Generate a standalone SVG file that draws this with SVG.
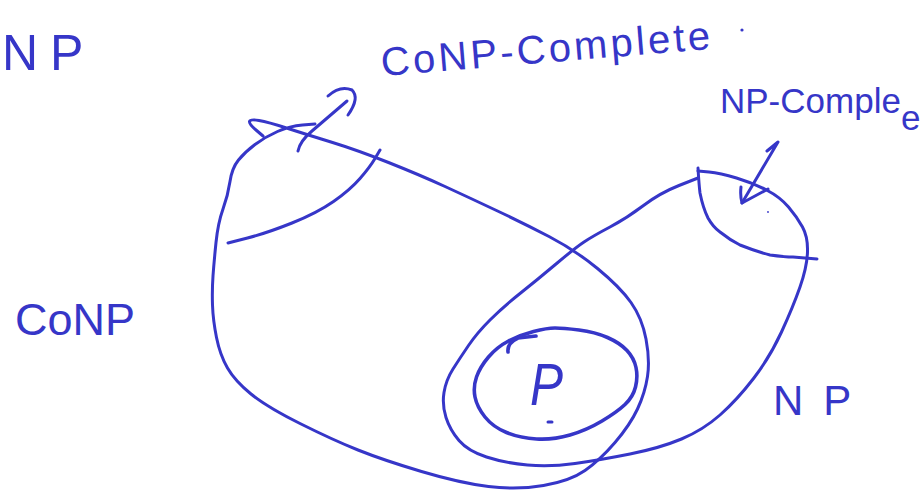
<svg xmlns="http://www.w3.org/2000/svg" width="924" height="491" viewBox="0 0 924 491">
<style>
.ink{fill:none;stroke:#3636c8;stroke-width:3;stroke-linecap:round;stroke-linejoin:round}
.thick{stroke-width:3.6}
.lbl{fill:#3636c8;font-family:"Liberation Sans",Arial,sans-serif}
</style>
<rect width="924" height="491" fill="#ffffff"/>
<g id="coNP">
<path class="ink" d="M263,136 L256,130 Q249,124 249.5,121.5 Q250,119 259,120.5 Q268,122 286.5,128 Q305,134 331,142 Q357,150 388.5,162.5 Q420,175 445,186.5 Q470,198 496.5,210.5 Q523,223 549,236.5 Q575,250 597.5,268.5 Q620,287 631,302.5 Q642,318 646,339 Q650,360 647.5,376.5 Q645,393 637.5,409 Q630,425 615,442.5 Q600,460 585,470.5 Q570,481 543.5,485.5 Q517,490 488.5,486.5 Q460,483 421.5,471.5 Q383,460 358,450 Q333,440 300,423.5 Q267,407 251,394 Q235,381 227.5,368 Q220,355 216.5,337.5 Q213,320 212.5,305 Q212,290 213,276 Q214,262 216,242.5 Q218,223 223,209 Q228,195 230,181.5 Q232,168 238.5,160 Q245,152 255,144.5 Q265,137 277.5,131.5 Q290,126 302.5,125 L315,124"/>
<text class="lbl" x="15" y="335" font-size="45">CoNP</text>
</g>
<g id="coNP-complete">
<path class="ink" d="M228,243 L247.5,238 Q267,233 292,223 Q317,213 333.5,201.5 Q350,190 360,178.5 Q370,167 375,158.5 L380,150"/>
<text class="lbl" x="382" y="76" font-size="40" textLength="330" lengthAdjust="spacing" transform="rotate(-4.7 382 76)">CoNP-Complete</text>
<circle cx="742" cy="30" r="1.6" fill="#3636c8"/>
</g>
<g id="NP">
<path class="ink" d="M698,178 L679,185.5 Q660,193 643.5,205.5 Q627,218 610,227 Q593,236 584,242 Q575,248 556,264 Q537,280 520,293.5 Q503,307 490,320 Q477,333 468.5,345.5 Q460,358 453,369 Q446,380 444,392.5 Q442,405 446,417.5 Q450,430 459,440.5 Q468,451 486.5,457 Q505,463 527.5,465 Q550,467 575,463.5 Q600,460 630,454 Q660,448 681.5,439 Q703,430 720,415 Q737,400 753.5,378.5 Q770,357 781.5,332 Q793,307 800,287 Q807,267 807.5,252 Q808,237 802.5,227 Q797,217 788.5,207 Q780,197 766.5,190 Q753,183 736.5,178 Q720,173 709,172 L698,171"/>
<text class="lbl" x="773" y="415" font-size="42" letter-spacing="20">NP</text>
</g>
<g id="NP-complete">
<path class="ink" d="M698,168 Q699,185 700,193 Q703,208 708,218 Q713,227 720,232 Q730,240 740,245 Q755,251 770,255 Q785,257 793,257 L817,259"/>
<text class="lbl" x="720" y="113" font-size="35">NP-Comple<tspan dy="17">e</tspan></text>
<circle cx="768" cy="212" r="0.9" fill="#3636c8"/>
</g>
<g id="P">
<path class="ink thick" d="M555,328 Q563,328 579,330 Q595,332 607.5,337.5 Q620,343 627,350.5 Q634,358 636,367.5 Q638,377 635.5,387 Q633,397 625,404.5 Q617,412 602,421 Q587,430 570,435 Q553,440 536.5,439 Q520,438 506.5,432.5 Q493,427 485,417 Q477,407 475,397 Q473,387 476.5,377 Q480,367 488.5,357 Q497,347 508.5,341 Q520,335 533.5,331.5 Q547,328 555,328 Z"/>
<path class="ink thick" d="M508,352 Q507,343 518,338 L536,336"/>
<text class="lbl" x="530" y="405" font-size="60" font-style="italic" textLength="33" lengthAdjust="spacingAndGlyphs">P</text>
<path class="ink" d="M548,422 L552,422"/>
</g>
<g id="label-NP-top">
<text class="lbl" x="2" y="70" font-size="50" letter-spacing="12">NP</text>
</g>
<g id="connectors">
<path class="ink" d="M298,151 Q300,141 312,131 L347,101"/>
<path class="ink" d="M328,96 Q340,85 352,90 Q360,98 348,115"/>
<path class="ink" d="M767,151 L778,142 L742,203"/>
<path class="ink" d="M741,187 Q740,196 742,203 L768,189"/>
</g>
</svg>
